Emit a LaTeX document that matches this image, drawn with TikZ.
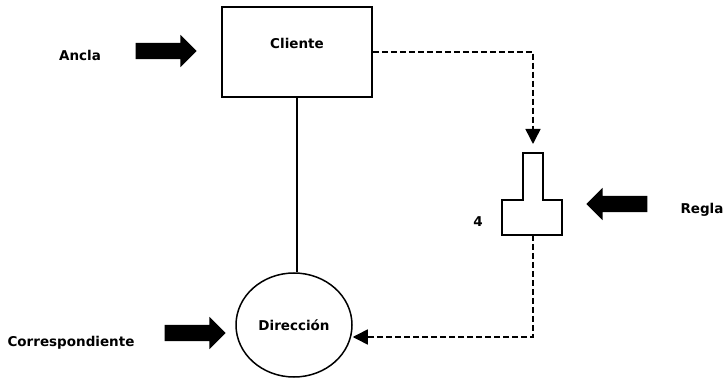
\documentclass[tikz,border=0pt]{standalone}
\usepackage{fontspec}
\setmainfont{DejaVu Sans}
\usetikzlibrary{shapes.geometric,shapes.arrows,arrows.meta}
\begin{document}
\begin{tikzpicture} [
  x=1pt, y=-1pt,
  every node/.style= {font=\fontsize{13.5}{16}\selectfont\bfseries},
  fat arrow/.style= {single arrow,fill=black,inner xsep=0pt,inner ysep=8pt,minimum width=32pt,minimum height=61pt,single arrow head extend=8pt},
  link/.style= {line width=1.5pt},
  dash link/.style= {line width=1.5pt,dash pattern=on 6pt off 3pt,-{Triangle[length=15pt,width=15pt]}},
]
\useasboundingbox (0,0) rectangle (723,379);
\node (cliente) [draw,link,minimum width=150pt,minimum height=90pt,label={[yshift=9pt]center:Cliente}] at (297,52) {};
\node (dir) [ellipse,draw,link,minimum width=116pt,minimum height=104pt,inner sep=0pt] at (294,325) {Dirección};
\node (ancla) at (80,55) {Ancla};
\node (corr) at (71,343) {Correspondiente};
\node (regla) at (702,210) {Regla};
\node (cuatro) at (478,222) {4};
\node (anclaflecha) [fat arrow] at (162,51) {};
\node (corrflecha) [fat arrow] at (191,333) {};
\node (reglaflecha) [fat arrow,shape border rotate=180] at (621,204) {};
\draw[link] (523,200) -- (523,153) -- (543,153) -- (543,200) -- (562,200) -- (562,235) -- (502,235) -- (502,200) -- cycle;
\coordinate (ttop) at (533,153);
\coordinate (tbot) at (533,235);
\draw[link] (cliente.south) -- (cliente.south |- dir.north);
\draw[dash link,shorten >=9pt] (cliente.east) -| (ttop);
\draw[dash link] (tbot) |- ([yshift=-12pt]dir.east);
\end{tikzpicture}
\end{document}
